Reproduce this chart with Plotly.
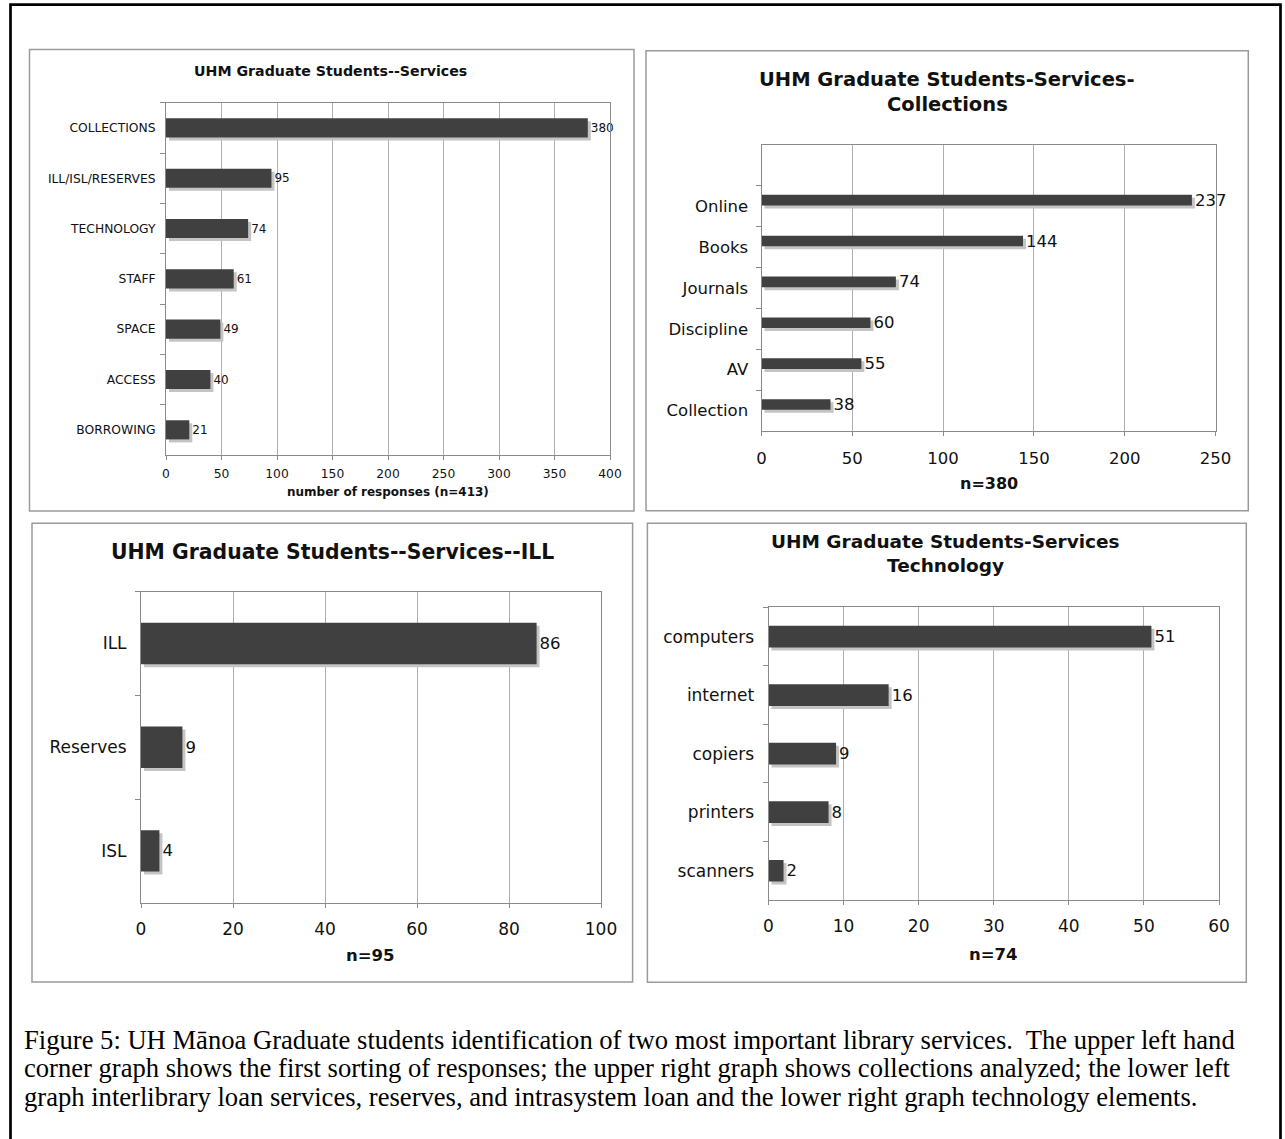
import plotly.graph_objects as go

W, H = 1285, 1139

# ---------------- data ----------------
services_labels = ["COLLECTIONS", "ILL/ISL/RESERVES", "TECHNOLOGY", "STAFF", "SPACE", "ACCESS", "BORROWING"]
services_counts = [380, 95, 74, 61, 49, 40, 21]

collections_labels = ["Online", "Books", "Journals", "Discipline", "AV", "Collection"]
collections_counts = [237, 144, 74, 60, 55, 38]

ill_labels = ["ILL", "Reserves", "ISL"]
ill_counts = [86, 9, 4]

tech_labels = ["computers", "internet", "copiers", "printers", "scanners"]
tech_counts = [51, 16, 9, 8, 2]

panel_titles = [
    ["UHM Graduate Students--Services"],
    ["UHM Graduate Students-Services-", "Collections"],
    ["UHM Graduate Students--Services--ILL"],
    ["UHM Graduate Students-Services", "Technology"],
]
axis_titles = ["number of responses (n=413)", "n=380", "n=95", "n=74"]
x_max = [400, 250, 100, 60]
x_step = [50, 50, 20, 10]

caption_lines = [
    "Figure 5: UH M\u0101noa Graduate students identification of two most important library services.\u00a0 The upper left hand",
    "corner graph shows the first sorting of responses; the upper right graph shows collections analyzed; the lower left",
    "graph interlibrary loan services, reserves, and intrasystem loan and the lower right graph technology elements.",
]

# ---------------- style ----------------
FONT = "DejaVu Sans"
SERIF = "Liberation Serif"
BAR = "#404040"
SHADOW = "#c4c4c4"
GRID = "#b0b0b0"
LINE = "#8a8a8a"
TXT = "#111111"

panels = [
    dict(labels=services_labels, counts=services_counts,
         plot=(166, 102.7, 610, 455), box=(29.5, 49.5, 634, 511),
         tick=12.3, val=12, tsize=14.2, title_y=[71], title_cx=331,
         xt_size=12, xt_y=492, bar_w=0.38, bar_off=-0.19, empty_top=0,
         xstand=3, ystand=7),
    dict(labels=collections_labels, counts=collections_counts,
         plot=(761.5, 145, 1215.5, 431), box=(646, 50.7, 1248.3, 510.7),
         tick=16.5, val=16.5, tsize=19.5, title_y=[79, 104], title_cx=947,
         xt_size=16, xt_y=483, bar_w=0.26, bar_off=-0.28, empty_top=1,
         xstand=8, ystand=9),
    dict(labels=ill_labels, counts=ill_counts,
         plot=(141, 591.7, 601, 902.7), box=(32, 523.3, 632.6, 982),
         tick=17, val=16.5, tsize=20.4, title_y=[551.5], title_cx=332,
         xt_size=16.5, xt_y=955, bar_w=0.40, bar_off=-0.20, empty_top=0,
         xstand=7, ystand=10),
    dict(labels=tech_labels, counts=tech_counts,
         plot=(768.5, 607.3, 1219, 900), box=(647.4, 523.3, 1246.3, 982.3),
         tick=17, val=16.5, tsize=18.5, title_y=[542, 565], title_cx=945,
         xt_size=16.5, xt_y=954, bar_w=0.37, bar_off=-0.185, empty_top=0,
         xstand=7, ystand=10),
]

fig = go.Figure()
layout = {}
annotations = []
shapes = []

for i, p in enumerate(panels):
    n = i + 1
    xa = "x" if n == 1 else f"x{n}"
    ya = "y" if n == 1 else f"y{n}"
    xl = "xaxis" if n == 1 else f"xaxis{n}"
    yl = "yaxis" if n == 1 else f"yaxis{n}"
    x0, y0, x1, y1 = p["plot"]
    nslots = len(p["labels"]) + p["empty_top"]
    slot_px = (y1 - y0) / nslots
    dx = 3 * x_max[i] / (x1 - x0)
    dy = 3 / slot_px

    # shadow bars
    fig.add_trace(go.Bar(
        x=p["counts"], y=p["labels"], orientation="h",
        base=dx, width=p["bar_w"], offset=p["bar_off"] + dy,
        marker=dict(color=SHADOW, line=dict(width=0)),
        hoverinfo="skip", showlegend=False, xaxis=xa, yaxis=ya,
    ))
    # main bars
    fig.add_trace(go.Bar(
        x=p["counts"], y=p["labels"], orientation="h",
        width=p["bar_w"], offset=p["bar_off"],
        marker=dict(color=BAR, line=dict(width=0)),
        text=[str(v) for v in p["counts"]], textposition="outside",
        constraintext="none", cliponaxis=False,
        textfont=dict(family=FONT, size=p["val"], color=TXT),
        showlegend=False, xaxis=xa, yaxis=ya,
    ))

    layout[xl] = dict(
        domain=[x0 / W, x1 / W], anchor=ya, range=[0, x_max[i]], automargin=False,
        tick0=0, dtick=x_step[i], showgrid=True, gridcolor=GRID, gridwidth=1,
        zeroline=False, showline=True, linecolor=LINE, linewidth=1, mirror=True,
        ticks="outside", ticklen=4, tickcolor=LINE,
        tickfont=dict(family=FONT, size=p["tick"], color=TXT),
        ticklabelstandoff=p["xstand"], fixedrange=True,
    )
    layout[yl] = dict(
        domain=[1 - y1 / H, 1 - y0 / H], anchor=xa, type="category", automargin=False,
        categoryorder="array", categoryarray=p["labels"],
        range=[len(p["labels"]) - 0.5, -0.5 - p["empty_top"]],
        tickson="boundaries", ticks="outside", ticklen=5, tickcolor=LINE,
        showgrid=False, zeroline=False, showline=True, linecolor=LINE,
        linewidth=1, mirror=True,
        tickfont=dict(family=FONT, size=p["tick"], color=TXT),
        ticklabelstandoff=p["ystand"], fixedrange=True,
    )

    # panel frame
    bx0, by0, bx1, by1 = p["box"]
    shapes.append(dict(type="rect", xref="paper", yref="paper",
                       x0=bx0 / W, x1=bx1 / W, y0=1 - by1 / H, y1=1 - by0 / H,
                       line=dict(color="#9a9a9a", width=1.5), layer="below"))

    # titles
    for line, ty in zip(panel_titles[i], p["title_y"]):
        annotations.append(dict(text=f"<b>{line}</b>", xref="paper", yref="paper",
                                x=p["title_cx"] / W, y=1 - ty / H,
                                xanchor="center", yanchor="middle", showarrow=False,
                                font=dict(family=FONT, size=p["tsize"], color=TXT)))
    # axis title
    annotations.append(dict(text=f"<b>{axis_titles[i]}</b>", xref="paper", yref="paper",
                            x=(x0 + x1) / 2 / W, y=1 - p["xt_y"] / H,
                            xanchor="center", yanchor="middle", showarrow=False,
                            font=dict(family=FONT, size=p["xt_size"], color=TXT)))

# outer frame
shapes.append(dict(type="rect", xref="paper", yref="paper",
                   x0=10.5 / W, x1=1280.5 / W, y0=1 - 1150 / H, y1=1 - 4.7 / H,
                   line=dict(color="#000000", width=2.7), layer="below"))

# caption
cap_y = [1040, 1068.3, 1096.5]
for line, cy in zip(caption_lines, cap_y):
    annotations.append(dict(text=line, xref="paper", yref="paper",
                            x=22 / W, y=1 - cy / H, xanchor="left", yanchor="middle",
                            showarrow=False,
                            font=dict(family=SERIF, size=26.6, color="#000000")))

fig.update_layout(
    template="none",
    width=W, height=H, margin=dict(l=0, r=0, t=0, b=0, autoexpand=False),
    paper_bgcolor="white", plot_bgcolor="white",
    barmode="overlay", showlegend=False,
    annotations=annotations, shapes=shapes,
    **layout,
)

fig.write_html("out.html", post_script="document.body.style.margin='0';",
               config={"displayModeBar": False})
